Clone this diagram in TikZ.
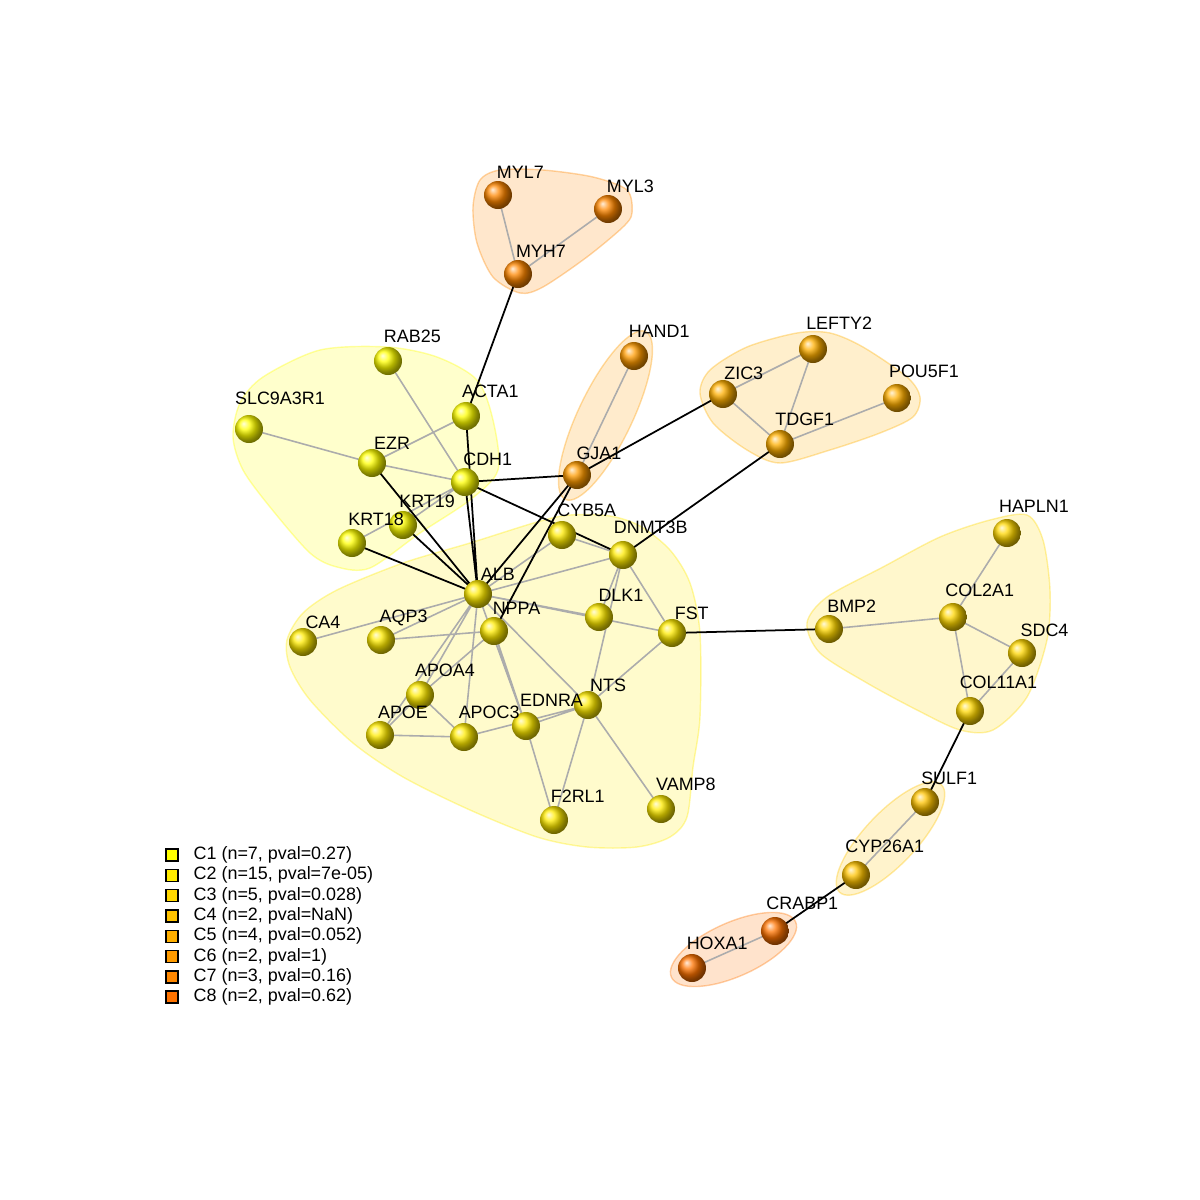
\documentclass[tikz,border=0pt]{standalone}
\usepackage{fontspec}
\setmainfont{Liberation Sans}
\definecolor{cA}{HTML}{FFFF00}
\definecolor{cB}{HTML}{FFEB00}
\definecolor{cC}{HTML}{FFD700}
\definecolor{cD}{HTML}{FFC300}
\definecolor{cE}{HTML}{FFAF00}
\definecolor{cF}{HTML}{FF9B00}
\definecolor{cG}{HTML}{FF8700}
\definecolor{cH}{HTML}{FF7300}
\newcommand{\genefont}{\fontsize{5.1}{6.1}\selectfont}
\font\genemeasure="Liberation Sans" at 5.1pt
\newlength{\lblw}
\newcommand{\genelist}{MYL7/cG, MYL3/cG, MYH7/cG, HAND1/cF, GJA1/cF,
  LEFTY2/cE, ZIC3/cE, POU5F1/cE, TDGF1/cE,
  RAB25/cA, ACTA1/cA, SLC9A3R1/cA, EZR/cA, CDH1/cA, KRT19/cA, KRT18/cA,
  CYB5A/cB, DNMT3B/cB, ALB/cB, DLK1/cB, FST/cB, CA4/cB, AQP3/cB, NPPA/cB,
  APOA4/cB, NTS/cB, APOE/cB, APOC3/cB, EDNRA/cB, VAMP8/cB, F2RL1/cB,
  HAPLN1/cC, BMP2/cC, COL2A1/cC, SDC4/cC, COL11A1/cC,
  SULF1/cD, CYP26A1/cD, CRABP1/cH, HOXA1/cH}

\begin{document}
\begin{tikzpicture}[
  every node/.style={font=\genefont},
  gene/.style={circle, shading=ball, minimum size=2.8mm, inner sep=0pt},
  hull/.style={fill=#1, fill opacity=0.2, draw=#1, draw opacity=0.35,
    line width=0.4pt},
  link/.style={gray!65, line width=0.45pt},
  cross/.style={black, line width=0.5pt},
  key/.style={draw=black, line width=0.4pt, minimum size=1.2mm, inner sep=0pt}
]
\useasboundingbox (-6,-6) rectangle (6,6);

% Cluster hulls.
\path[hull=cA] plot[smooth cycle] coordinates {(-3.37,2.23) (-2.80,2.50)
  (-2.13,2.53) (-1.63,2.43) (-1.23,2.20) (-1.07,1.80) (-1.02,1.30)
  (-1.30,1.00) (-1.80,0.67) (-2.30,0.32) (-2.63,0.33) (-2.90,0.47)
  (-3.30,0.93) (-3.57,1.30) (-3.67,1.63) (-3.60,1.97)};
\path[hull=cB] plot[smooth cycle] coordinates {(-3.13,-0.40) (-2.97,-0.13)
  (-2.63,0.10) (-1.97,0.37) (-1.30,0.57) (-0.63,0.78) (-0.30,0.85)
  (0.10,0.84) (0.40,0.74) (0.70,0.50) (0.90,0.17) (1.00,-0.33)
  (1.00,-1.17) (0.93,-1.67) (0.87,-2.17) (0.70,-2.37) (0.37,-2.47)
  (-0.13,-2.47) (-0.63,-2.37) (-1.30,-2.10) (-1.97,-1.77) (-2.47,-1.43)
  (-2.90,-1.00) (-3.10,-0.67)};
\path[hull=cC] plot[smooth cycle] coordinates {(2.07,-0.23) (2.27,0.03)
  (2.83,0.33) (3.40,0.63) (3.90,0.80) (4.27,0.85) (4.43,0.60) (4.50,0.10)
  (4.47,-0.40) (4.27,-0.97) (3.93,-1.30) (3.60,-1.30) (3.17,-1.10)
  (2.67,-0.83) (2.20,-0.53)};
\path[hull=cE] plot[smooth cycle] coordinates {(1.00,2.07) (1.10,2.30)
  (1.47,2.53) (1.97,2.67) (2.30,2.67) (2.63,2.53) (3.07,2.23) (3.20,2.03)
  (3.13,1.83) (2.80,1.67) (2.30,1.50) (1.80,1.37) (1.47,1.50) (1.13,1.77)};
\path[hull=cG] plot[smooth cycle] coordinates {(-1.27,3.93) (-1.20,4.20)
  (-1.00,4.30) (-0.57,4.30) (-0.07,4.23) (0.27,4.10) (0.32,3.87)
  (0.23,3.73) (-0.13,3.43) (-0.57,3.13) (-0.80,3.07) (-1.07,3.23)
  (-1.23,3.57)};
\path[hull=cF, rotate around={64.4:(0.055,1.845)}]
  (0.055,1.845) ellipse (0.93 and 0.27);
\path[hull=cD, rotate around={46.6:(2.905,-2.385)}]
  (2.905,-2.385) ellipse (0.74 and 0.26);
\path[hull=cH, rotate around={24:(1.335,-3.495)}]
  (1.335,-3.495) ellipse (0.68 and 0.27);

% Genes.
\coordinate (MYL7) at (-1.02,4.05);
\coordinate (MYL3) at (0.08,3.91);
\coordinate (MYH7) at (-0.82,3.26);
\coordinate (HAND1) at (0.34,2.44);
\coordinate (GJA1) at (-0.23,1.25);
\coordinate (LEFTY2) at (2.13,2.51);
\coordinate (ZIC3) at (1.23,2.06);
\coordinate (POU5F1) at (2.97,2.02);
\coordinate (TDGF1) at (1.80,1.56);
\coordinate (RAB25) at (-2.12,2.39);
\coordinate (ACTA1) at (-1.34,1.84);
\coordinate (SLC9A3R1) at (-3.51,1.71);
\coordinate (EZR) at (-2.28,1.37);
\coordinate (CDH1) at (-1.35,1.18);
\coordinate (KRT19) at (-1.97,0.75);
\coordinate (KRT18) at (-2.48,0.57);
\coordinate (CYB5A) at (-0.38,0.65);
\coordinate (DNMT3B) at (0.23,0.45);
\coordinate (ALB) at (-1.22,0.06);
\coordinate (DLK1) at (-0.01,-0.17);
\coordinate (FST) at (0.72,-0.33);
\coordinate (CA4) at (-2.97,-0.42);
\coordinate (AQP3) at (-2.19,-0.40);
\coordinate (NPPA) at (-1.06,-0.31);
\coordinate (APOA4) at (-1.80,-0.95);
\coordinate (NTS) at (-0.12,-1.05);
\coordinate (APOE) at (-2.20,-1.35);
\coordinate (APOC3) at (-1.36,-1.37);
\coordinate (EDNRA) at (-0.74,-1.26);
\coordinate (VAMP8) at (0.61,-2.09);
\coordinate (F2RL1) at (-0.46,-2.20);
\coordinate (HAPLN1) at (4.07,0.67);
\coordinate (BMP2) at (2.29,-0.29);
\coordinate (COL2A1) at (3.53,-0.17);
\coordinate (SDC4) at (4.22,-0.53);
\coordinate (COL11A1) at (3.70,-1.11);
\coordinate (SULF1) at (3.25,-2.02);
\coordinate (CYP26A1) at (2.56,-2.75);
\coordinate (CRABP1) at (1.75,-3.31);
\coordinate (HOXA1) at (0.92,-3.68);

% Links inside clusters.
\draw[link] (MYL7)--(MYH7) (MYL3)--(MYH7) (HAND1)--(GJA1)
  (ZIC3)--(LEFTY2) (ZIC3)--(TDGF1) (LEFTY2)--(TDGF1) (TDGF1)--(POU5F1);
\draw[link] (RAB25)--(CDH1) (SLC9A3R1)--(EZR) (EZR)--(CDH1) (EZR)--(ACTA1)
  (KRT19)--(CDH1) (KRT18)--(CDH1);
\draw[link] (ALB)--(CYB5A) (CYB5A)--(DNMT3B) (ALB)--(DNMT3B) (ALB)--(DLK1)
  (ALB)--(FST) (DNMT3B)--(DLK1) (DNMT3B)--(NTS) (DNMT3B)--(FST)
  (FST)--(NTS) (NTS)--(VAMP8) (NTS)--(F2RL1) (EDNRA)--(F2RL1)
  (EDNRA)--(NTS) (APOC3)--(NTS) (ALB)--(NTS) (ALB)--(EDNRA)
  (NPPA)--(EDNRA) (ALB)--(CA4) (ALB)--(AQP3) (AQP3)--(NPPA)
  (ALB)--(APOA4) (ALB)--(APOE) (ALB)--(APOC3) (NPPA)--(APOA4)
  (APOA4)--(APOE) (APOA4)--(APOC3) (APOE)--(APOC3);
\draw[link] (HAPLN1)--(COL2A1) (BMP2)--(COL2A1) (COL2A1)--(SDC4)
  (COL2A1)--(COL11A1) (SDC4)--(COL11A1) (SULF1)--(CYP26A1)
  (CRABP1)--(HOXA1);

% Links between clusters.
\draw[cross] (MYH7)--(ACTA1) (ACTA1)--(ALB) (CDH1)--(ALB) (CDH1)--(GJA1)
  (CDH1)--(DNMT3B) (GJA1)--(ZIC3) (TDGF1)--(DNMT3B) (EZR)--(ALB)
  (KRT19)--(ALB) (KRT18)--(ALB) (GJA1)--(ALB) (GJA1)--(NPPA)
  (FST)--(BMP2) (COL11A1)--(SULF1) (CYP26A1)--(CRABP1);

\foreach \p/\c in \genelist
  \node[gene, ball color=\c] at (\p) {};
\foreach \p/\c in \genelist {
  \settowidth{\lblw}{\genemeasure\p}
  \pgfmathsetmacro\off{0.13+0.2*\lblw/28.4528}
  \path (\p) ++(\off,\off) node {\p};
}

% Legend.
\foreach \i/\c/\t in {0/cA/{C1 (n=7, pval=0.27)}, 1/cB/{C2 (n=15, pval=7e-05)},
  2/cC/{C3 (n=5, pval=0.028)}, 3/cD/{C4 (n=2, pval=NaN)},
  4/cE/{C5 (n=4, pval=0.052)}, 5/cF/{C6 (n=2, pval=1)},
  6/cG/{C7 (n=3, pval=0.16)}, 7/cH/{C8 (n=2, pval=0.62)}} {
  \node[key, fill=\c] (k\i) at (-4.28,{-2.55-0.203*\i}) {};
  \node[anchor=west, inner sep=0pt] at (-4.07,{-2.55-0.203*\i}) {\t};
}
\end{tikzpicture}
\end{document}
